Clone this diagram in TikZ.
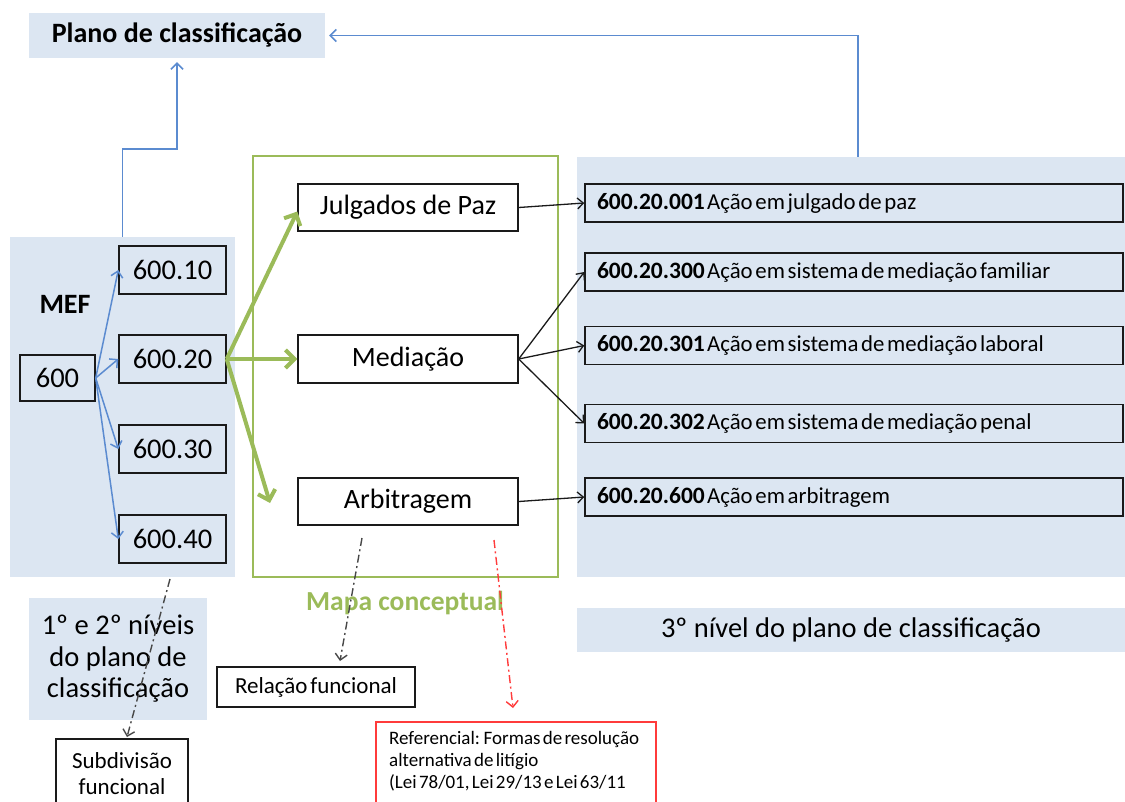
\documentclass[tikz,border=0pt]{standalone}
\usepackage{fontspec}
\setmainfont{Carlito}
\usetikzlibrary{arrows.meta}
\definecolor{panelblue}{HTML}{DCE6F2}
\definecolor{lineblue}{HTML}{5B8BD0}
\definecolor{mapgreen}{HTML}{9BBB59}
\definecolor{refred}{HTML}{FF3B3B}
\definecolor{boxline}{HTML}{1A1A1A}
\newcommand{\tightsp}{\spaceskip=0.12em plus 0.02em\relax}
\newcommand{\entrytext}[2]{\tightsp{\bfseries\fontsize{23.5}{25}\selectfont #1}\hspace{0.1em}#2}
\tikzset{
  panel/.style={fill=panelblue, draw=none, inner sep=0pt},
  numbox/.style={draw=boxline, line width=1.4pt, inner sep=0pt, minimum width=107pt, minimum height=48pt, font=\fontsize{28.5}{33}\selectfont},
  conbox/.style={draw=boxline, line width=1.4pt, inner sep=0pt, minimum width=220pt, minimum height=47pt, font=\fontsize{28}{33}\selectfont},
  entrybox/.style={draw=boxline, line width=1.4pt, inner xsep=12pt, inner ysep=0pt, minimum width=538pt, minimum height=38pt, text width=514pt, align=left, font=\fontsize{22.8}{25}\selectfont},
  bluearrow/.style={draw=lineblue, line width=1.5pt, -{Straight Barb[length=6pt,width=12pt]}},
  greenarrow/.style={draw=mapgreen, line width=4pt, -{Straight Barb[length=9pt,width=18pt]}},
  blackarrow/.style={draw=boxline, line width=1.3pt, -{Straight Barb[length=6pt,width=11pt]}},
  dashdotline/.style={line width=1.4pt, dash pattern=on 8pt off 3.5pt on 2pt off 3.5pt, -{Straight Barb[length=6pt,width=12pt]}},
}
\begin{document}
\begin{tikzpicture}[x=1pt,y=-1pt]
\useasboundingbox (0,0) rectangle (1125,801);
% panels
\node[panel, minimum width=296pt, minimum height=45pt, font=\bfseries\fontsize{28}{32}\selectfont] (plano) at (177,35.5) {Plano de classificação};
\node[panel, minimum width=225pt, minimum height=340pt] (mefpanel) at (122.5,407) {};
\node[panel, minimum width=548pt, minimum height=420pt] (rpanel) at (851,367) {};
\node[panel, minimum width=548pt, minimum height=44pt, font=\fontsize{28.5}{33}\selectfont] (niv3) at (851,630) {3º nível do plano de classificação};
\node[panel, minimum width=178pt, minimum height=122pt, align=center, font=\fontsize{28.5}{31.5}\selectfont] (niv12) at (118,659) {1º e 2º níveis\\do plano de\\classificação};
% MEF
\node[font=\bfseries\fontsize{28}{32}\selectfont] (meflabel) at (65,304) {MEF};
\node[numbox, minimum width=75pt, minimum height=46pt] (n600) at (57.5,378) {600};
\node[numbox] (n10) at (172.5,270) {600.10};
\node[numbox] (n20) at (172.5,359) {600.20};
\node[numbox] (n30) at (172.5,449) {600.30};
\node[numbox] (n40) at (172.5,539) {600.40};
% mapa conceptual
\node[draw=mapgreen, line width=2.8pt, minimum width=305pt, minimum height=421pt, inner sep=0pt] (mapa) at (405.5,366.5) {};
\node[text=mapgreen, font=\bfseries\fontsize{27.5}{31}\selectfont] (mapalabel) at (405,603) {Mapa conceptual};
\node[conbox] (julg) at (408,207.5) {Julgados de Paz};
\node[conbox, minimum height=48pt] (medi) at (408,359) {Mediação};
\node[conbox] (arbi) at (408,501.5) {Arbitragem};
% entries
\node[entrybox] (e001) at (854,203) {\entrytext{600.20.001}{Ação em julgado de paz}};
\node[entrybox] (e300) at (854,272) {\entrytext{600.20.300}{Ação em sistema de mediação familiar}};
\node[entrybox] (e301) at (854,345.5) {\entrytext{600.20.301}{Ação em sistema de mediação laboral}};
\node[entrybox] (e302) at (854,423.5) {\entrytext{600.20.302}{Ação em sistema de mediação penal}};
\node[entrybox] (e600) at (854,497) {\entrytext{600.20.600}{Ação em arbitragem}};
% lower boxes
\node[draw=boxline, line width=1.4pt, minimum width=132pt, minimum height=70pt, inner sep=0pt, align=center, font=\fontsize{23}{26}\selectfont] (subdiv) at (122,774) {Subdivisão\\funcional};
\node[draw=boxline, line width=1.4pt, minimum width=198pt, minimum height=40pt, inner sep=0pt, font=\fontsize{23}{26}\selectfont\tightsp] (relacao) at (316,687) {Relação funcional};
\node[draw=refred, line width=1.4pt, minimum width=280pt, minimum height=100pt, inner sep=0pt] (refer) at (516,772) {};
\node[anchor=north west, inner sep=0pt, align=left, font=\fontsize{19}{21.8}\selectfont\tightsp] (refertext) at (389,731) {Referencial: Formas de resolução\\alternativa de litígio\\(Lei 78/01, Lei 29/13 e Lei 63/11};
% coordinates for free ends
\coordinate (g3) at (270,503);
\coordinate (d1s) at (170,579);
\coordinate (d1e) at (127,737);
\coordinate (d2s) at (362,538);
\coordinate (d2e) at (340,661);
\coordinate (d3s) at (494,540);
\coordinate (d3e) at (513,708);
% blue connectors
\draw[bluearrow] ([xshift=7pt]rpanel.north) |- ([xshift=4pt]plano.east);
\draw[bluearrow] (mefpanel.north) -- ++(0,-88) -| ([yshift=-4pt]plano.south);
\draw[bluearrow] (n600.east) -- (n10.west);
\draw[bluearrow] (n600.east) -- (n20.west);
\draw[bluearrow] (n600.east) -- (n30.west);
\draw[bluearrow] (n600.east) -- (n40.west);
% green connectors
\draw[greenarrow] (n20.east) -- ([yshift=-4pt]julg.west);
\draw[greenarrow] (n20.east) -- (medi.west);
\draw[greenarrow] (n20.east) -- (g3);
% black connectors
\draw[blackarrow] (julg.east) -- (e001.west);
\draw[blackarrow] (medi.east) -- (e300.west);
\draw[blackarrow] (medi.east) -- (e301.west);
\draw[blackarrow] (medi.east) -- (e302.west);
\draw[blackarrow] (arbi.east) -- (e600.west);
% dash-dot connectors
\draw[dashdotline, draw=boxline!80] (d1s) -- (d1e);
\draw[dashdotline, draw=boxline!80] (d2s) -- (d2e);
\draw[dashdotline, draw=refred] (d3s) -- (d3e);
\end{tikzpicture}
\end{document}
